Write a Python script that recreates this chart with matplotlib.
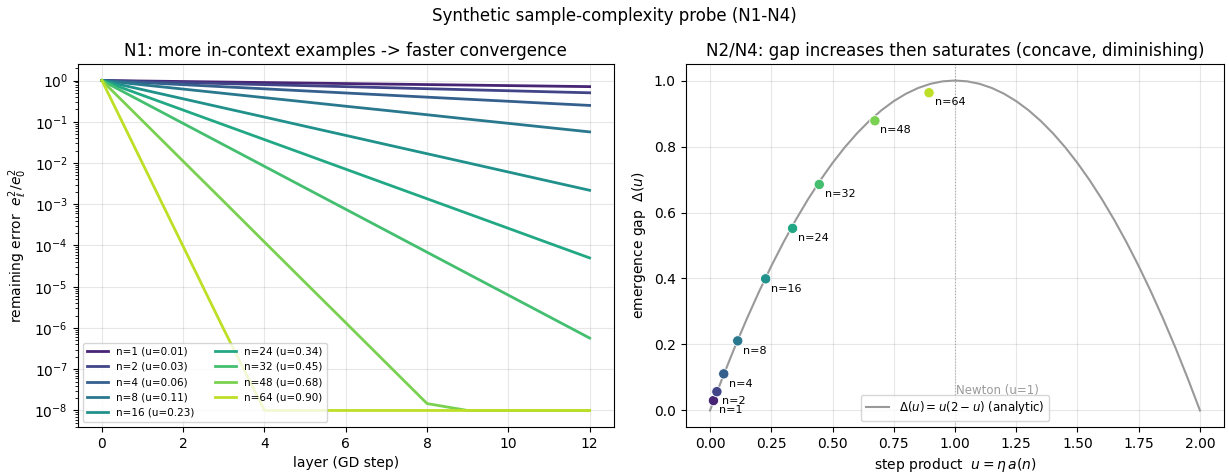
import numpy as np
import matplotlib
matplotlib.use("Agg")
import matplotlib.pyplot as plt

# sample counts and step products u = eta * a(n)
n_values = [1, 2, 4, 8, 16, 24, 32, 48, 64]
u_values = [0.014, 0.028, 0.056, 0.113, 0.227, 0.337, 0.446, 0.673, 0.894]
u_labels = ["0.01", "0.03", "0.06", "0.11", "0.23", "0.34", "0.45", "0.68", "0.90"]

# N1: remaining error per layer
layers = list(range(13))
err_n1 = [1.0, 0.972, 0.945, 0.918, 0.893, 0.868, 0.844, 0.820, 0.797, 0.775, 0.753, 0.732, 0.711]
err_n2 = [1.0, 0.944, 0.892, 0.842, 0.796, 0.751, 0.710, 0.670, 0.633, 0.598, 0.565, 0.533, 0.504]
err_n4 = [1.0, 0.890, 0.793, 0.706, 0.629, 0.560, 0.499, 0.444, 0.395, 0.352, 0.314, 0.279, 0.249]
err_n8 = [1.0, 0.787, 0.620, 0.488, 0.384, 0.303, 0.238, 0.188, 0.148, 0.116, 0.0916, 0.0721, 0.0568]
err_n16 = [1.0, 0.600, 0.360, 0.216, 0.130, 0.0778, 0.0467, 0.0280, 0.0168, 0.0101, 0.00605, 0.00363, 0.00218]
err_n24 = [1.0, 0.438, 0.192, 0.0841, 0.0369, 0.0162, 0.00708, 0.00310, 0.00136, 5.96e-4, 2.61e-4, 1.14e-4, 5.0e-5]
err_n32 = [1.0, 0.302, 0.0910, 0.0275, 0.00829, 0.00250, 7.55e-4, 2.28e-4, 6.87e-5, 2.07e-5, 6.26e-6, 1.89e-6, 5.7e-7]
err_n48 = [1.0, 0.105, 0.0110, 1.16e-3, 1.21e-4, 1.27e-5, 1.34e-6, 1.40e-7, 1.47e-8, 1e-8, 1e-8, 1e-8, 1e-8]
err_n64 = [1.0, 9.72e-3, 9.45e-5, 9.18e-7, 1e-8, 1e-8, 1e-8, 1e-8, 1e-8, 1e-8, 1e-8, 1e-8, 1e-8]
errors = [err_n1, err_n2, err_n4, err_n8, err_n16, err_n24, err_n32, err_n48, err_n64]

# N2/N4: measured gap at each n
gap_values = [0.030, 0.057, 0.111, 0.211, 0.399, 0.552, 0.685, 0.878, 0.963]

# analytic curve Delta(u) = u(2-u), read at 0.05 steps
curve_u = np.linspace(0.0, 2.0, 41)
curve_gap = [0.0, 0.0975, 0.19, 0.2775, 0.36, 0.4375, 0.51, 0.5775, 0.64, 0.6975,
             0.75, 0.7975, 0.84, 0.8775, 0.91, 0.9375, 0.96, 0.9775, 0.99, 0.9975,
             1.0, 0.9975, 0.99, 0.9775, 0.96, 0.9375, 0.91, 0.8775, 0.84, 0.7975,
             0.75, 0.6975, 0.64, 0.5775, 0.51, 0.4375, 0.36, 0.2775, 0.19, 0.0975, 0.0]

colors = plt.cm.viridis(np.linspace(0.1, 0.9, len(n_values)))

fig = plt.figure(figsize=(12.29, 4.76), dpi=100)
ax1 = fig.add_axes([0.0631, 0.103, 0.4365, 0.7625])
ax2 = fig.add_axes([0.5578, 0.103, 0.4385, 0.7625])

fig.suptitle("Synthetic sample-complexity probe (N1-N4)", fontsize=12, y=0.985)

# left panel
for i in range(len(n_values)):
    ax1.plot(layers, errors[i], color=colors[i], lw=2,
             label="n=%d (u=%s)" % (n_values[i], u_labels[i]))
ax1.set_yscale("log")
ax1.set_xticks([0, 2, 4, 6, 8, 10, 12])
ax1.set_xlabel("layer (GD step)")
ax1.set_ylabel(r"remaining error  $e_\ell^2/e_0^2$")
ax1.set_title("N1: more in-context examples -> faster convergence")
ax1.grid(True, alpha=0.3)
ax1.legend(loc="lower left", ncol=2, fontsize=7.5)

# right panel
ax2.plot(curve_u, curve_gap, color="#999999", lw=1.5,
         label=r"$\Delta(u) = u(2-u)$ (analytic)")
ax2.scatter(u_values, gap_values, c=colors, s=55, edgecolors="white",
            linewidths=0.6, zorder=3)
for i in range(len(n_values)):
    ax2.annotate("n=%d" % n_values[i], (u_values[i], gap_values[i]),
                 xytext=(4, -7), textcoords="offset points", fontsize=8, va="center")
ax2.axvline(1.0, color="gray", ls=":", lw=0.8, alpha=0.6)
ax2.text(1.005, 0.05, "Newton (u=1)", color="gray", fontsize=8.5, alpha=0.8)
ax2.set_xticks([0, 0.25, 0.5, 0.75, 1.0, 1.25, 1.5, 1.75, 2.0])
ax2.set_xlabel(r"step product  $u = \eta\, a(n)$")
ax2.set_ylabel(r"emergence gap  $\Delta(u)$")
ax2.set_title("N2/N4: gap increases then saturates (concave, diminishing)")
ax2.grid(True, alpha=0.3)
ax2.legend(loc="lower center", fontsize=8.5)

fig.savefig("out.png", dpi=100)
